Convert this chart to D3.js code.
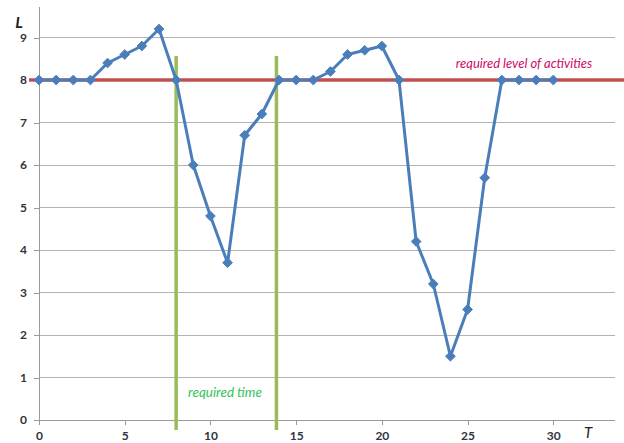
<!DOCTYPE html>
<html><head><meta charset="utf-8">
<script src="https://cdn.jsdelivr.net/npm/d3@7"></script>
<style>body{margin:0;background:#fff}svg{display:block}</style>
</head><body>
<script>
const tValues = d3.range(0, 31);
const lValues = [8,8,8,8,8.4,8.6,8.8,9.2,8,6,4.8,3.7,6.7,7.2,8,8,8,8.2,8.6,8.7,8.8,8,4.2,3.2,1.5,2.6,5.7,8,8,8,8];
const xTicks = [0,5,10,15,20,25,30];
const yTicks = [0,1,2,3,4,5,6,7,8,9];
const requiredLevel = 8;
const requiredTimes = [8, 13.85];
const levelLabel = "required level of activities";
const timeLabel = "required time";

const W = 624, H = 443;
const svg = d3.select("body").append("svg").attr("width", W).attr("height", H);
const x = d3.scaleLinear().domain([0, 33.6]).range([39, 615]);
const y = d3.scaleLinear().domain([0, 9]).range([420, 37.5]);
const font = "Lato, 'Open Sans', sans-serif";

// gridlines
svg.append("g").selectAll("line").data(yTicks.filter(d => d > 0)).join("line")
  .attr("x1", x(0)).attr("x2", x(33.6)).attr("y1", d => y(d)).attr("y2", d => y(d))
  .attr("stroke", "#b3b3b3").attr("stroke-width", 1).attr("shape-rendering", "crispEdges");

// y axis
const yAxis = svg.append("g").attr("transform", `translate(${x(0)},0)`)
  .call(d3.axisLeft(y).tickValues(yTicks).tickSize(5).tickPadding(7).tickFormat(d3.format("d")));
yAxis.select(".domain").attr("d", `M-0,${y(9.72)}V${y(0)}`);
// x axis
const xAxis = svg.append("g").attr("transform", `translate(0,${y(0)})`)
  .call(d3.axisBottom(x).tickValues(xTicks).tickSize(5).tickPadding(6).tickFormat(d3.format("d")));
xAxis.select(".domain").attr("d", `M${x(0) - 5},0H${x(33.6)}`);
[yAxis, xAxis].forEach(a => {
  a.selectAll(".domain, .tick line").attr("stroke", "#9a9a9a").attr("shape-rendering", "crispEdges");
  a.selectAll("text").attr("font-family", font).attr("font-size", 12).attr("font-weight", "bold").attr("fill", "#2f3440");
});

// required level line
svg.append("line").attr("x1", 29).attr("x2", W).attr("y1", y(requiredLevel)).attr("y2", y(requiredLevel))
  .attr("stroke", "#c0504d").attr("stroke-width", 3.5);

// required time lines
svg.append("g").selectAll("line").data(requiredTimes).join("line")
  .attr("x1", d => x(d)).attr("x2", d => x(d)).attr("y1", 56).attr("y2", 430)
  .attr("stroke", "#9bbb59").attr("stroke-width", 3.5);

// series line
const pts = tValues.map((t, i) => [t, lValues[i]]);
svg.append("path").datum(pts)
  .attr("d", d3.line().x(d => x(d[0])).y(d => y(d[1])))
  .attr("fill", "none").attr("stroke", "#4a7ebb").attr("stroke-width", 3).attr("stroke-linejoin", "round");
svg.append("g").selectAll("path").data(pts).join("path")
  .attr("transform", d => `translate(${x(d[0])},${y(d[1])})`)
  .attr("d", d3.symbol(d3.symbolDiamond2, 60)())
  .attr("fill", "#4a7ebb").attr("stroke", "#4a7ebb").attr("stroke-width", 1);

// labels
svg.append("text").attr("x", 524).attr("y", 68).attr("text-anchor", "middle")
  .attr("font-family", font).attr("font-style", "italic").attr("font-size", 13).attr("fill", "#cc0a66").text(levelLabel);
svg.append("text").attr("x", 225).attr("y", 397).attr("text-anchor", "middle")
  .attr("font-family", font).attr("font-style", "italic").attr("font-size", 13.5).attr("fill", "#2fc35a").text(timeLabel);
svg.append("text").attr("x", 588).attr("y", 438).attr("text-anchor", "middle")
  .attr("font-family", font).attr("font-style", "italic").attr("font-size", 15).attr("fill", "#222").text("T");
svg.append("text").attr("x", 19).attr("y", 28).attr("text-anchor", "middle")
  .attr("font-family", font).attr("font-style", "italic").attr("font-weight", "bold").attr("font-size", 16).attr("fill", "#222").text("L");
</script>
</body></html>
